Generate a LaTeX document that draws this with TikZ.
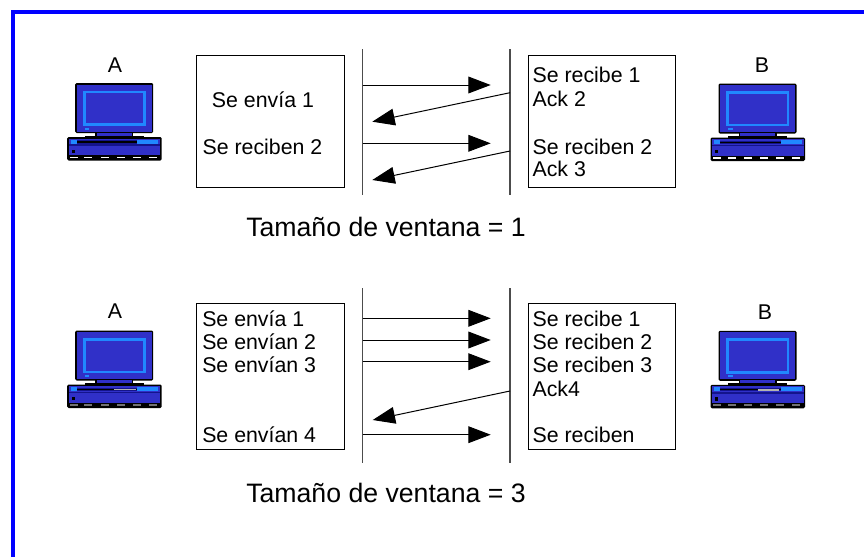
\documentclass[tikz,border=0pt]{standalone}
\usepackage{fontspec}
\setmainfont{Liberation Sans}
\usetikzlibrary{arrows.meta}
\definecolor{pcblue}{HTML}{3030C8}
\definecolor{pclight}{HTML}{2088FF}
\definecolor{pcnavy}{HTML}{14148C}
\definecolor{frameblue}{HTML}{0000FF}
\tikzset{
  lbl/.style={anchor=base west,inner sep=0pt,font=\fontsize{16}{18}\selectfont,text=black},
  pclabel/.style={anchor=base,inner sep=0pt,font=\fontsize{16}{18}\selectfont,text=black},
  caption/.style={anchor=base west,inner sep=0pt,font=\fontsize{20}{24}\selectfont,text=black},
  panel/.style={draw=black,line width=0.75pt,fill=none,inner sep=0pt,minimum width=110.5pt},
  wire/.style={draw=black!70,line width=0.85pt},
  msg/.style={draw=black,line width=0.75pt,-{Triangle[length=16.8pt,width=12.6pt]}},
}
% #1 name, #2 position, #3 foot-dash colour, #4 slot colour
\newcommand{\pccomp}[4]{%
\begin{scope}[shift={#2}]
  \coordinate (#1) at (0,0);
  \fill[black,rounded corners=1pt] (-1.5,-1.5) rectangle (76.5,48.5);
  \fill[pcblue] (0,0) rectangle (75,47);
  \draw[pclight,line width=2.1pt] (7.5,7.5) rectangle (68,40);
  \fill[pclight] (8.3,43) rectangle (12.7,45);
  \fill[black] (18.5,47) rectangle (56.5,53);
  \fill[pcblue] (20,48) rectangle (55,51);
  \fill[black] (8,51) rectangle (67,54);
  \fill[black,rounded corners=1pt] (-9.5,52.5) rectangle (85,76);
  \fill[pcblue] (-8,54) rectangle (83.5,70.5);
  \fill[pclight] (-6,55) rectangle (0,59);
  \fill[pclight] (60.6,55) rectangle (81.6,59);
  \fill[pcnavy] (0,55.5) rectangle (60.6,59);
  \fill[black] (0,56.6) rectangle (60.6,58);
  \fill[#4] (37.6,56.6) rectangle (59,58.4);
  \fill[pcnavy] (-8,59.6) rectangle (83.5,61.2);
  \fill[black] (-5,65) rectangle (-1.7,68.2);
  \foreach \dx in {-6.7,7.6,24,40,56,72} {
    \fill[#3] (\dx,72) rectangle ++(8,1.5);
  }
\end{scope}}
\begin{document}
\begin{tikzpicture}[x=0.75pt,y=-0.75pt]
\useasboundingbox (0,0) rectangle (864,557);
\fill[white] (0,0) rectangle (864,557);
\draw[frameblue,line width=3pt] (13,557) -- (13,12) -- (864,12);

% computers
\pccomp{pcA}{(76.7,84.5)}{white}{black}
\pccomp{pcB}{(720,85)}{white}{black}
\pccomp{pcC}{(76.7,332)}{black!55}{black!30}
\pccomp{pcD}{(720,332.3)}{black!55}{black!30}
\node[pclabel] (la) at (115,72.7) {A};
\node[pclabel] (lb) at (762,72.7) {B};
\node[pclabel] (lc) at (115,318.5) {A};
\node[pclabel] (ld) at (765,319) {B};

% panels
\node[panel,minimum height=98.5pt] (p1) at (270.5,121.4) {};
\node[panel,minimum height=98.5pt] (p2) at (601.7,121.4) {};
\node[panel,minimum height=109.3pt] (p3) at (270.5,376.2) {};
\node[panel,minimum height=109.3pt] (p4) at (601.7,376.2) {};

% panel texts
\node[lbl] (t1) at (211.7,107.7) {Se envía 1};
\node[lbl] (t2) at (202.3,154) {Se reciben 2};
\node[lbl] (t3) at (532.3,82.7) {Se recibe 1};
\node[lbl] (t4) at (532.3,106.7) {Ack 2};
\node[lbl] (t5) at (532.3,154) {Se reciben 2};
\node[lbl] (t6) at (532.3,176.5) {Ack 3};
\node[lbl] (u1) at (202,326) {Se envía 1};
\node[lbl] (u2) at (202,349.3) {Se envían 2};
\node[lbl] (u3) at (202,372.3) {Se envían 3};
\node[lbl] (u4) at (202,442.7) {Se envían 4};
\node[lbl] (v1) at (532.3,326.5) {Se recibe 1};
\node[lbl] (v2) at (532.3,349.3) {Se reciben 2};
\node[lbl] (v3) at (532.3,372.3) {Se reciben 3};
\node[lbl] (v4) at (532.3,396.7) {Ack4};
\node[lbl] (v5) at (532.3,442.7) {Se reciben};

% captions
\node[caption] (c1) at (246,236.7) {Tamaño de ventana = 1};
\node[caption] (c2) at (246,502) {Tamaño de ventana = 3};

% vertical time lines
\coordinate (La) at (362.7,49);
\coordinate (Lb) at (362.7,195);
\coordinate (Ra) at (510,49);
\coordinate (Rb) at (510,195);
\coordinate (Lc) at (362.7,288.3);
\coordinate (Ld) at (362.7,463.3);
\coordinate (Rc) at (510,288.3);
\coordinate (Rd) at (510,463.3);
\draw[wire] (La) -- (Lb);
\draw[wire] (Ra) -- (Rb);
\draw[wire] (Lc) -- (Ld);
\draw[wire] (Rc) -- (Rd);

% messages, top group
\coordinate (a1s) at (362.7,85);    \coordinate (a1e) at (490.7,85);
\coordinate (a2s) at (510,92.7);    \coordinate (a2e) at (372.3,121.7);
\coordinate (a3s) at (362.7,143.3); \coordinate (a3e) at (490.7,143.3);
\coordinate (a4s) at (510,151);     \coordinate (a4e) at (372.3,180);
\draw[msg] (a1s) -- (a1e);
\draw[msg] (a2s) -- (a2e);
\draw[msg] (a3s) -- (a3e);
\draw[msg] (a4s) -- (a4e);

% messages, bottom group
\coordinate (b1s) at (362.7,318.3); \coordinate (b1e) at (490.7,318.3);
\coordinate (b2s) at (362.7,340);   \coordinate (b2e) at (490.7,340);
\coordinate (b3s) at (362.7,361.7); \coordinate (b3e) at (490.7,361.7);
\coordinate (b4s) at (510,391);     \coordinate (b4e) at (372.7,420);
\coordinate (b5s) at (362.7,434.7); \coordinate (b5e) at (490.7,434.7);
\draw[msg] (b1s) -- (b1e);
\draw[msg] (b2s) -- (b2e);
\draw[msg] (b3s) -- (b3e);
\draw[msg] (b4s) -- (b4e);
\draw[msg] (b5s) -- (b5e);
\end{tikzpicture}
\end{document}
